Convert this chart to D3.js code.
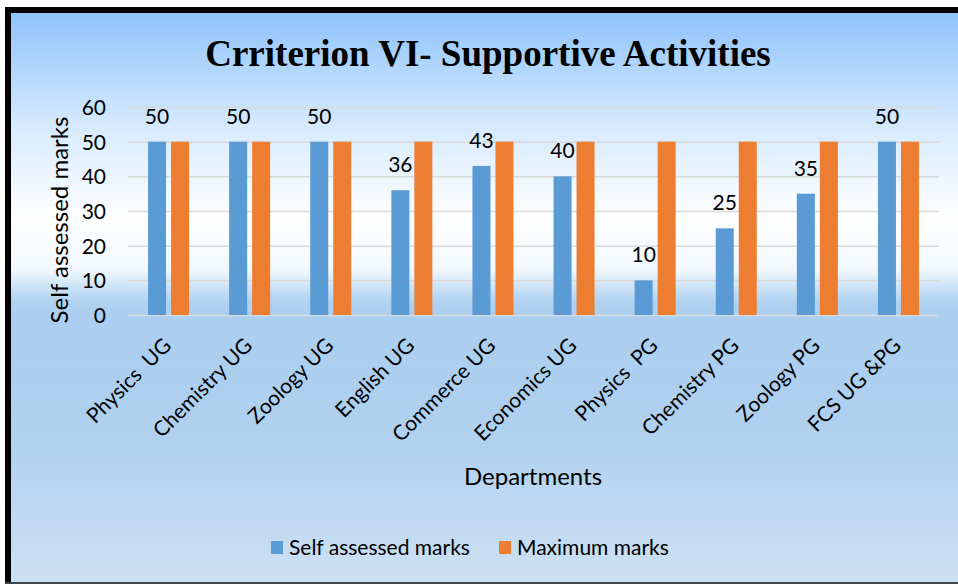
<!DOCTYPE html>
<html>
<head>
<meta charset="utf-8">
<script src="https://cdn.jsdelivr.net/npm/d3@7"></script>
<style>
  html, body { margin: 0; padding: 0; background: #fff; }
  svg { display: block; }
  text { font-family: Lato, "Open Sans", sans-serif; fill: #000; }
</style>
</head>
<body>
<div id="chart"></div>
<script>
const departments = ['Physics  UG', 'Chemistry UG', 'Zoology UG', 'English UG', 'Commerce UG',
  'Economics UG', 'Physics  PG', 'Chemistry PG', 'Zoology PG', 'FCS UG &PG'];
const selfMarks = [50, 50, 50, 36, 43, 40, 10, 25, 35, 50];
const maxMarks = [50, 50, 50, 50, 50, 50, 50, 50, 50, 50];
const yTicks = [0, 10, 20, 30, 40, 50, 60];
const seriesNames = ['Self assessed marks', 'Maximum marks'];

const W = 958, H = 584;
const colors = ['#5B9BD5', '#ED7D31'];
const plot = { left: 128, right: 939, top: 107, bottom: 315 };

const svg = d3.select('#chart').append('svg')
  .attr('width', W)
  .attr('height', H);

// background gradient (office style light gradient)
const defs = svg.append('defs');
const grad = defs.append('linearGradient')
  .attr('id', 'bg').attr('x1', 0).attr('y1', 0).attr('x2', 0).attr('y2', 1);
[[0, '#8FC3FC'], [0.2, '#D6EAFD'], [0.36, '#FFFFFF'], [0.45, '#F2F8FE'],
 [0.505, '#B2D3F1'], [0.53, '#ABCEF0'], [0.73, '#AFD0EF'], [1, '#CCE0F3']]
  .forEach(s => grad.append('stop').attr('offset', s[0]).attr('stop-color', s[1]));

svg.append('rect')
  .attr('x', 11).attr('y', 13)
  .attr('width', W - 11).attr('height', 569)
  .attr('fill', 'url(#bg)');

// frame
svg.append('rect').attr('x', 5).attr('y', 7).attr('width', W - 5).attr('height', 6).attr('fill', '#000');
svg.append('rect').attr('x', 5).attr('y', 7).attr('width', 6).attr('height', 576).attr('fill', '#000');
svg.append('rect').attr('x', 5).attr('y', 582).attr('width', W - 5).attr('height', 2).attr('fill', '#3E4750');

// scales
const x = d3.scaleBand()
  .domain(departments)
  .range([plot.left, plot.right])
  .paddingInner(0).paddingOuter(0);

const y = d3.scaleLinear()
  .domain([0, 60])
  .range([plot.bottom, plot.top]);

const barW = 18, barGap = 5;

// gridlines
svg.append('g')
  .attr('transform', 'translate(' + plot.left + ',0)')
  .call(d3.axisLeft(y).tickValues(yTicks).tickSize(-(plot.right - plot.left)).tickFormat(''))
  .call(g => g.select('.domain').remove())
  .call(g => g.selectAll('line').attr('stroke', '#D9D9D9').attr('stroke-width', 1.5));

// y tick labels
svg.append('g')
  .attr('transform', 'translate(106,0)')
  .call(d3.axisLeft(y).tickValues(yTicks).tickSize(0).tickPadding(0))
  .call(g => g.select('.domain').remove())
  .call(g => g.selectAll('text')
    .attr('font-family', 'Lato, "Open Sans", sans-serif')
    .attr('font-size', 21).attr('fill', '#000').attr('dy', '0.35em'));

// bars
const series = [selfMarks, maxMarks];
series.forEach((vals, si) => {
  svg.append('g').selectAll('rect')
    .data(vals)
    .join('rect')
    .attr('x', (d, i) => x(departments[i]) + x.bandwidth() / 2 - barW - barGap / 2 + si * (barW + barGap))
    .attr('y', d => y(d))
    .attr('width', barW)
    .attr('height', d => y(0) - y(d))
    .attr('fill', colors[si]);
});

// data labels over self-assessed bars
svg.append('g').selectAll('text')
  .data(selfMarks)
  .join('text')
  .attr('x', (d, i) => x(departments[i]) + x.bandwidth() / 2 - barW / 2 - barGap / 2)
  .attr('y', d => y(d) - 18)
  .attr('text-anchor', 'middle')
  .attr('font-size', 21)
  .text(d => d);

// x category labels
svg.append('g').selectAll('text')
  .data(departments)
  .join('text')
  .attr('transform', d => 'translate(' + (x(d) + x.bandwidth() / 2 + 4) + ',347) rotate(-45)')
  .attr('text-anchor', 'end')
  .attr('font-size', 21)
  .style('white-space', 'pre')
  .text(d => d);

// title
svg.append('text')
  .attr('x', 488).attr('y', 66)
  .attr('text-anchor', 'middle')
  .style('font-family', '"Liberation Serif", "Times New Roman", serif')
  .attr('font-weight', 'bold')
  .attr('font-size', 37)
  .text('Crriterion VI- Supportive Activities');

// axis titles
svg.append('text')
  .attr('transform', 'translate(68,220) rotate(-90)')
  .attr('text-anchor', 'middle')
  .attr('font-size', 24)
  .text('Self assessed marks');

svg.append('text')
  .attr('x', 533).attr('y', 485)
  .attr('text-anchor', 'middle')
  .attr('font-size', 24)
  .text('Departments');

// legend
const legend = svg.append('g');
const legendX = [271, 499];
seriesNames.forEach((name, i) => {
  legend.append('rect')
    .attr('x', legendX[i]).attr('y', 541)
    .attr('width', 12).attr('height', 13)
    .attr('fill', colors[i]);
  legend.append('text')
    .attr('x', legendX[i] + 18).attr('y', 555)
    .attr('font-size', 21)
    .text(name);
});
</script>
</body>
</html>
